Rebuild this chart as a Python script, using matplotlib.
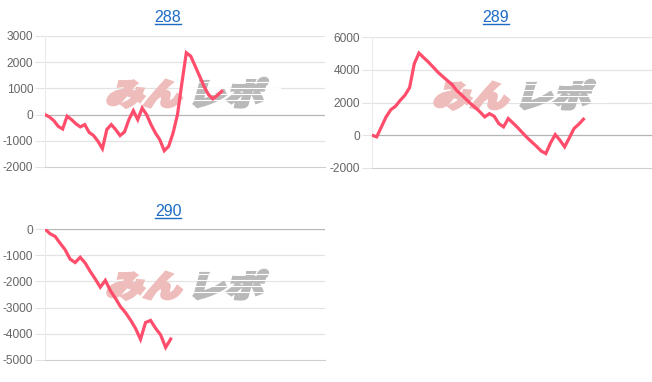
import numpy as np
import matplotlib.pyplot as plt
from matplotlib.lines import Line2D
from matplotlib.patches import PathPatch
from matplotlib.textpath import TextPath
from matplotlib.font_manager import FontProperties
from matplotlib.transforms import Affine2D, IdentityTransform

plt.rcParams['font.family'] = ['Liberation Sans', 'DejaVu Sans']

# balance series, one value per game
titles = ["288", "289", "290"]
s288 = [0, -90, -230, -450, -550, -60, -190, -350, -470, -380, -680, -800, -1020, -1300,
        -570, -380, -570, -800, -660, -190, 150, -190, 250, 0, -380, -700, -960, -1380,
        -1210, -700, 0, 1210, 2360, 2230, 1850, 1470, 1080, 770, 600, 730, 890]
s289 = [0, -100, 510, 1120, 1560, 1770, 2130, 2440, 2910, 4370, 5020, 4740, 4470, 4170,
        3860, 3600, 3350, 3110, 2740, 2480, 2200, 1930, 1690, 1420, 1120, 1320, 1160, 710,
        510, 1020, 750, 470, 160, -140, -410, -670, -960, -1120, -470, 40, -300, -710,
        -160, 410, 670, 980]
s290 = [0, -180, -280, -540, -790, -1150, -1280, -1080, -1300, -1620, -1910, -2220, -1960,
        -2350, -2640, -2960, -3190, -3470, -3790, -4210, -3570, -3490, -3790, -4040, -4520,
        -4200]
series = [s288, s289, s290]
yranges = [(-2000, 3000, 1000), (-2000, 6000, 2000), (-5000, 0, 1000)]
xmax = [63.4, 59.6, 55.7]

# axes boxes in pixels: left, top, right, bottom
boxes = [(45, 36, 325, 167), (372, 37, 652, 168), (45, 229, 325, 360)]
title_xy = [(168, 17), (496, 17), (168, 211)]
logo_xy = [(105, 108), (432, 110), (105, 300)]

W, H = 652, 382
fig = plt.figure(figsize=(W / 100, H / 100), dpi=100)

line_col = '#ff4d6b'
grid_col = '#e3e3e3'
zero_col = '#b5b5b5'
jp = FontProperties(family='Noto Sans CJK JP', weight='black')

for i in range(3):
    l, t, r, b = boxes[i]
    ax = fig.add_axes([l / W, 1 - b / H, (r - l) / W, (b - t) / H])
    lo, hi, step = yranges[i]
    ticks = np.arange(lo, hi + 1, step)
    ax.set_ylim(lo, hi)
    ax.set_xlim(0, xmax[i])
    ax.set_yticks(ticks)
    ax.set_yticklabels([str(v) for v in ticks])
    ax.set_xticks([])
    for sp in ['top', 'right']:
        ax.spines[sp].set_visible(False)
    ax.spines['left'].set_color('#ebebeb')
    ax.spines['bottom'].set_color(zero_col if lo == 0 else '#cfcfcf')
    ax.tick_params(axis='y', length=7.2, width=0.75, color=grid_col, labelcolor='#666666',
                   labelsize=8.6, pad=1.4)
    for v in ticks:
        if v == lo:
            continue
        ax.axhline(v, color=zero_col if v == 0 else grid_col, lw=0.9, zorder=1)

    x = np.arange(len(series[i]))
    ax.plot(x, series[i], color=line_col, lw=2.3, zorder=3, solid_joinstyle='miter')

    # title styled as link
    tx, ty = title_xy[i]
    txt = fig.text(tx / W, 1 - ty / H, titles[i], color='#1c6bc4', fontsize=11.5,
                   ha='center', va='center')
    fig.canvas.draw()
    bb = txt.get_window_extent()
    fig.add_artist(Line2D([bb.x0 / W, bb.x1 / W], [(bb.y0 + 1) / H, (bb.y0 + 1) / H],
                          transform=fig.transFigure, color='#1c6bc4', lw=1))

    # watermark
    lx, ly = logo_xy[i]
    sk = Affine2D().scale(1.05, 0.85).skew_deg(16, 0)
    p1 = TextPath((0, 0), "みん", size=36, prop=jp)
    p2 = TextPath((0, 0), "レポ", size=36, prop=jp)
    tr1 = sk + Affine2D().translate(lx, H - ly + 3)
    tr2 = sk + Affine2D().translate(lx + 82, H - ly + 3)
    ax.add_patch(PathPatch(tr1.transform_path(p1), transform=IdentityTransform(),
                           fc='#efbcbc', ec='#efbcbc', lw=2.2, zorder=2, clip_on=False))
    grey = PathPatch(tr2.transform_path(p2), transform=IdentityTransform(),
                     fc='#b9b9b9', ec='#b9b9b9', lw=2.2, zorder=2, clip_on=False)
    ax.add_patch(grey)
    # speed-line gaps across the grey half
    for k in range(4):
        yy = H - ly + 8 + k * 6
        ln = Line2D([lx + 78, lx + 175], [yy, yy], transform=IdentityTransform(),
                    color='white', lw=0.8, zorder=2.1, clip_on=False)
        ax.add_line(ln)
        ln.set_clip_path(grey)

fig.savefig('out.png', dpi=100)
